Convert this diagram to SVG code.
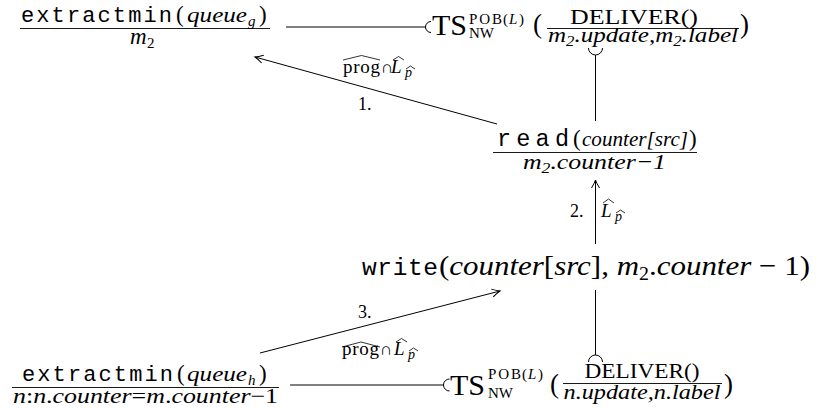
<svg xmlns="http://www.w3.org/2000/svg" width="828" height="409" viewBox="0 0 828 409">
  <style>
    .tt{font-family:"Liberation Mono","DejaVu Sans Mono",monospace;fill:#000}
    .rm{font-family:"Liberation Serif","DejaVu Serif",serif;fill:#000}
    .it{font-family:"Liberation Serif","DejaVu Serif",serif;font-style:italic;fill:#000}
    .bar{stroke:#000;stroke-width:0.9}
    .wire{fill:none;stroke:#000;stroke-width:1}
    .hat{fill:none;stroke:#000;stroke-width:0.8}
  </style>
  <defs>
    <marker id="to" viewBox="-10 -6 12 12" refX="0" refY="0" markerWidth="12" markerHeight="12" markerUnits="userSpaceOnUse" orient="auto">
      <path d="M-8,-4 Q-3,-1 0,0 Q-3,1 -8,4" fill="none" stroke="#000" stroke-width="1"/>
    </marker>
  </defs>
  <rect width="828" height="409" fill="#fff"/>

  <!-- connectors -->
  <g id="connectors">
    <line class="wire" x1="286" y1="27" x2="425.5" y2="27"/>
    <path class="wire" d="M431,21.5 A5.5,5.5 0 0 0 431,32.5"/>
    <path class="wire" d="M588.5,48 A7,7 0 0 0 602.5,48"/>
    <line class="wire" x1="595.5" y1="55" x2="595.5" y2="121"/>
    <line class="wire" x1="497" y1="124" x2="255" y2="57" marker-end="url(#to)"/>
    <line class="wire" x1="595.5" y1="244" x2="595.5" y2="180" marker-end="url(#to)"/>
    <line class="wire" x1="595.5" y1="290" x2="595.5" y2="355"/>
    <path class="wire" d="M588.5,362 A7,7 0 0 1 602.5,362"/>
    <line class="wire" x1="260" y1="353" x2="500" y2="291" marker-end="url(#to)"/>
    <line class="wire" x1="290" y1="385" x2="443.5" y2="385"/>
    <path class="wire" d="M449.5,379 A6,6 0 0 0 449.5,391"/>

    <!-- edge labels -->
    <text class="rm" x="343" y="73" font-size="19" textLength="37">prog</text>
    <path class="hat" d="M343,60 L361.5,55.5 L380,60"/>
    <text class="rm" x="381" y="73" font-size="17">∩</text>
    <text class="it" x="391" y="73" font-size="19">L</text>
    <path class="hat" d="M393,60 L398.5,56.5 L404,60"/>
    <text class="it" x="405" y="77" font-size="14">p</text>
    <path class="hat" d="M406,69 L410.5,66 L415,69"/>
    <text class="rm" x="358" y="110" font-size="18">1.</text>

    <text class="rm" x="570" y="217" font-size="18">2.</text>
    <text class="it" x="601" y="217" font-size="19">L</text>
    <path class="hat" d="M603,203 L608.5,199 L614,203"/>
    <text class="it" x="615" y="221" font-size="14">p</text>
    <path class="hat" d="M616,213 L620.5,210 L625,213"/>

    <text class="rm" x="358" y="318" font-size="18">3.</text>
    <text class="rm" x="342" y="355" font-size="19" textLength="37">prog</text>
    <path class="hat" d="M342,347 L361,342 L380,347"/>
    <text class="rm" x="380" y="355" font-size="17">∩</text>
    <text class="it" x="394" y="355" font-size="19">L</text>
    <path class="hat" d="M396,342 L401.5,338.5 L407,342"/>
    <text class="it" x="408" y="359" font-size="14">p</text>
    <path class="hat" d="M409,351 L413.5,348 L418,351"/>
  </g>

  <!-- extractmin(queue_g) / m2 -->
  <g id="extract-g">
    <text class="tt" x="21" y="22" font-size="22" textLength="151">extractmin</text>
    <text class="rm" x="176" y="22" font-size="23">(</text>
    <text class="it" x="187" y="22" font-size="22" textLength="60" lengthAdjust="spacingAndGlyphs">queue</text>
    <text class="it" x="248" y="26" font-size="15">g</text>
    <text class="rm" x="259" y="22" font-size="23">)</text>
    <line class="bar" x1="20" y1="28.5" x2="270" y2="28.5"/>
    <text class="it" x="130" y="44" font-size="23">m</text>
    <text class="rm" x="147" y="48" font-size="15">2</text>
  </g>

  <!-- TS box for the top DELIVER -->
  <g id="ts-top">
    <text class="rm" x="432" y="35" font-size="30">TS</text>
    <text class="rm" x="469" y="24" font-size="15" textLength="33">POB</text>
    <text class="rm" x="503" y="24" font-size="15">(</text>
    <text class="it" x="509" y="24" font-size="15">L</text>
    <text class="rm" x="519" y="24" font-size="15">)</text>
    <text class="rm" x="469" y="38" font-size="15">NW</text>
    <text class="rm" x="533" y="33" font-size="27">(</text>
    <text class="rm" x="634" y="24" font-size="22" text-anchor="middle" textLength="128" lengthAdjust="spacingAndGlyphs">DELIVER()</text>
    <line class="bar" x1="547" y1="28.5" x2="739" y2="28.5"/>
    <text class="it" x="548" y="42" font-size="21" textLength="190" lengthAdjust="spacingAndGlyphs">m<tspan class="rm" font-size="14" dy="4">2</tspan><tspan dy="-4">.update,m</tspan><tspan class="rm" font-size="14" dy="4">2</tspan><tspan dy="-4">.label</tspan></text>
    <text class="rm" x="740" y="33" font-size="27">)</text>
  </g>

  <!-- read(counter[src]) / m2.counter-1 -->
  <g id="read">
    <text class="tt" x="497" y="146" font-size="23.5" textLength="72">read</text>
    <text class="rm" x="573" y="146" font-size="23">(</text>
    <text class="it" x="582" y="146" font-size="22" textLength="106" lengthAdjust="spacingAndGlyphs">counter<tspan class="rm">[</tspan>src<tspan class="rm">]</tspan></text>
    <text class="rm" x="689" y="146" font-size="23">)</text>
    <line class="bar" x1="493" y1="152.5" x2="697" y2="152.5"/>
    <text class="it" x="523" y="169" font-size="22" textLength="143" lengthAdjust="spacingAndGlyphs">m<tspan class="rm" font-size="15" dy="4">2</tspan><tspan dy="-4">.counter</tspan><tspan class="rm">−1</tspan></text>
  </g>

  <!-- write(counter[src], m2.counter - 1) -->
  <g id="write">
    <text class="tt" x="362" y="275" font-size="24.5" textLength="76">write</text>
    <text class="rm" x="439" y="275" font-size="28" textLength="371" lengthAdjust="spacingAndGlyphs">(<tspan class="it">counter</tspan>[<tspan class="it">src</tspan>], <tspan class="it">m</tspan><tspan font-size="18" dy="5">2</tspan><tspan dy="-5">.</tspan><tspan class="it">counter</tspan> − 1)</text>
  </g>

  <!-- extractmin(queue_h) / n:n.counter=m.counter-1 -->
  <g id="extract-h">
    <text class="tt" x="22" y="381" font-size="22" textLength="151">extractmin</text>
    <text class="rm" x="177" y="381" font-size="23">(</text>
    <text class="it" x="187" y="381" font-size="22" textLength="60" lengthAdjust="spacingAndGlyphs">queue</text>
    <text class="it" x="248" y="385" font-size="15">h</text>
    <text class="rm" x="259" y="381" font-size="23">)</text>
    <line class="bar" x1="12" y1="387.5" x2="279" y2="387.5"/>
    <text class="rm" x="13" y="403" font-size="21" textLength="265" lengthAdjust="spacingAndGlyphs"><tspan class="it">n</tspan>:<tspan class="it">n</tspan>.<tspan class="it">counter</tspan>=<tspan class="it">m</tspan>.<tspan class="it">counter</tspan>−1</text>
  </g>

  <!-- TS box for the bottom DELIVER -->
  <g id="ts-bottom">
    <text class="rm" x="450" y="395" font-size="30">TS</text>
    <text class="rm" x="488" y="379" font-size="15" textLength="33">POB</text>
    <text class="rm" x="522" y="379" font-size="15">(</text>
    <text class="it" x="528" y="379" font-size="15">L</text>
    <text class="rm" x="538" y="379" font-size="15">)</text>
    <text class="rm" x="488" y="398" font-size="15">NW</text>
    <text class="rm" x="550" y="393" font-size="27">(</text>
    <text class="rm" x="642" y="378" font-size="21" text-anchor="middle" textLength="115" lengthAdjust="spacingAndGlyphs">DELIVER()</text>
    <line class="bar" x1="563" y1="383.5" x2="722" y2="383.5"/>
    <text class="it" x="642" y="399" font-size="21" text-anchor="middle" textLength="157" lengthAdjust="spacingAndGlyphs">n.update,n.label</text>
    <text class="rm" x="724" y="393" font-size="27">)</text>
  </g>
</svg>
